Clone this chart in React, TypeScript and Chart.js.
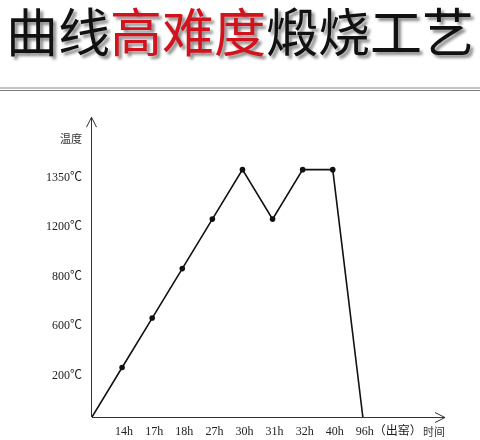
import { useEffect, useRef } from "react";
import { Chart, registerables } from "chart.js";

Chart.register(...registerables);

// 横轴时间节点（第 0 位是原点，不画刻度）
const hours = ["14h", "17h", "18h", "27h", "30h", "31h", "32h", "40h", "96h（出窑）"];
// 各节点的温度（℃）
const temps = [200, 600, 800, 1200, 1350, 1200, 1350, 1350, 0];
// 纵轴刻度（等距排列，不按比例）
const tempTicks = [200, 600, 800, 1200, 1350];

const titleParts = [
  { text: "曲线", color: "#111" },
  { text: "高难度", color: "#d2121c" },
  { text: "煅烧工艺", color: "#111" },
];

const labelFont = {
  family: "'Liberation Serif', 'Noto Sans CJK SC', serif",
  size: 12,
};

// 坐标轴 + 箭头 + 轴名
const axesPlugin = {
  id: "axesArrows",
  beforeDatasetsDraw(chart: any) {
    const { ctx, chartArea } = chart;
    const { left, right, top, bottom } = chartArea;
    ctx.save();
    ctx.strokeStyle = "#333";
    ctx.lineWidth = 1;
    ctx.beginPath();
    ctx.moveTo(left, bottom + 0.5);
    ctx.lineTo(right, bottom + 0.5);
    ctx.moveTo(right - 10, bottom - 4.5);
    ctx.lineTo(right, bottom + 0.5);
    ctx.lineTo(right - 10, bottom + 5.5);
    ctx.moveTo(left - 0.5, bottom);
    ctx.lineTo(left - 0.5, top);
    ctx.moveTo(left - 5.5, top + 10);
    ctx.lineTo(left - 0.5, top);
    ctx.lineTo(left + 4.5, top + 10);
    ctx.stroke();

    ctx.fillStyle = "#333";
    ctx.font = "11px 'Noto Sans CJK SC', sans-serif";
    ctx.textBaseline = "middle";
    ctx.textAlign = "right";
    ctx.fillText("温度", left - 10, top + 22);
    ctx.fillText("时间", right, bottom + 15);
    ctx.restore();
  },
};

export default function App() {
  const canvasRef = useRef<HTMLCanvasElement>(null);

  useEffect(() => {
    document.body.style.margin = "0";
    if (!canvasRef.current) return;

    const points = [{ x: 0, y: 0 }].concat(
      temps.map((t, i) => ({ x: i + 1, y: t === 0 ? 0 : tempTicks.indexOf(t) + 1 }))
    );

    const chart = new Chart(canvasRef.current, {
      type: "line",
      data: {
        datasets: [
          {
            data: points,
            borderColor: "#111",
            borderWidth: 1.6,
            pointBackgroundColor: "#111",
            pointBorderWidth: 0,
            pointRadius: points.map((p) => (p.y === 0 ? 0 : 2.8)),
            tension: 0,
          },
        ],
      },
      options: {
        responsive: false,
        animation: false,
        layout: { padding: { top: 15, right: 35, left: 0, bottom: 0 } },
        plugins: {
          legend: { display: false },
          tooltip: { enabled: false },
        },
        scales: {
          x: {
            type: "linear",
            min: 0,
            max: 11.73,
            grid: { display: false, drawTicks: false },
            border: { display: false },
            afterFit: (scale: any) => {
              scale.height = 23;
            },
            afterBuildTicks: (scale: any) => {
              scale.ticks = hours.map((_, i) => ({ value: i + 1 }));
            },
            ticks: {
              align: "start",
              labelOffset: -7,
              padding: 8,
              maxRotation: 0,
              autoSkip: false,
              color: "#222",
              font: labelFont,
              callback: (v: any) => hours[v - 1] ?? "",
            },
          },
          y: {
            type: "linear",
            min: 0,
            max: 6.06,
            grid: { display: false, drawTicks: false },
            border: { display: false },
            afterFit: (scale: any) => {
              scale.width = 92;
            },
            afterBuildTicks: (scale: any) => {
              scale.ticks = tempTicks.map((_, i) => ({ value: i + 1 }));
            },
            ticks: {
              labelOffset: 8,
              padding: 10,
              autoSkip: false,
              color: "#222",
              font: labelFont,
              callback: (v: any) => (tempTicks[v - 1] ? `${tempTicks[v - 1]}℃` : ""),
            },
          },
        },
      },
      plugins: [axesPlugin],
    });

    return () => {
      chart.destroy();
    };
  }, []);

  return (
    <div
      style={{
        position: "relative",
        width: 480,
        height: 440,
        background: "#fff",
        overflow: "hidden",
      }}
    >
      <div
        style={{
          position: "absolute",
          top: 4,
          left: 6,
          fontFamily: "'Noto Sans CJK SC', sans-serif",
          fontSize: 52,
          lineHeight: "52px",
          whiteSpace: "nowrap",
          textShadow: "3px 3px 3px rgba(0,0,0,0.45)",
        }}
      >
        {titleParts.map((p) => (
          <span key={p.text} style={{ color: p.color }}>
            {p.text}
          </span>
        ))}
      </div>
      <div
        style={{
          position: "absolute",
          top: 87,
          left: 0,
          width: 480,
          height: 2,
          background: "#c4c4c4",
        }}
      />
      <div
        style={{
          position: "absolute",
          top: 90,
          left: 0,
          width: 480,
          height: 1,
          background: "#7a7a7a",
        }}
      />
      <canvas
        ref={canvasRef}
        width={480}
        height={340}
        style={{ position: "absolute", top: 100, left: 0, width: 480, height: 340 }}
      />
    </div>
  );
}
